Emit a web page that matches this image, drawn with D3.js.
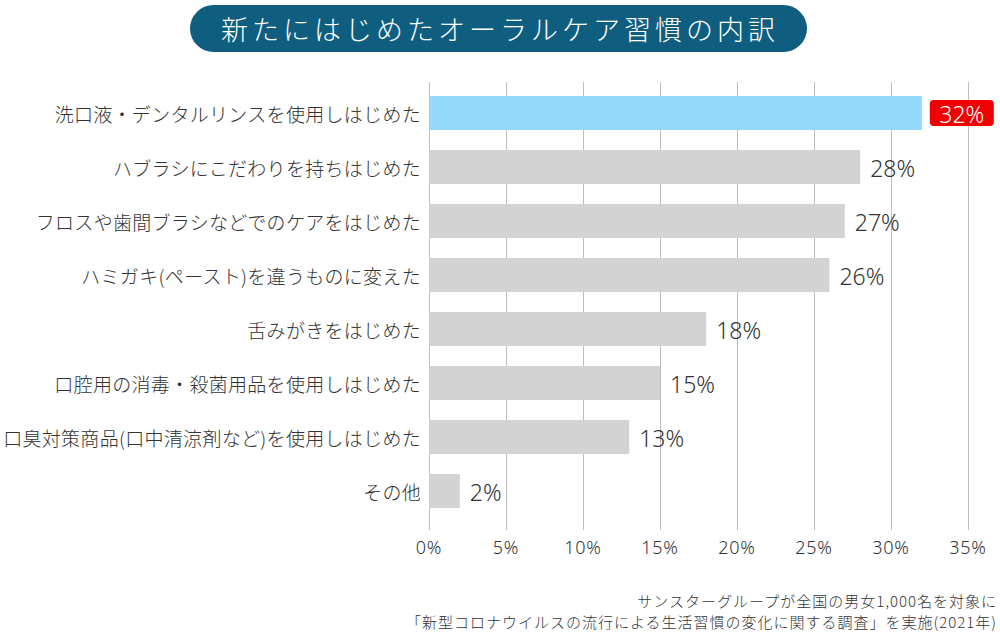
<!DOCTYPE html>
<html><head><meta charset="utf-8">
<script src="https://cdn.jsdelivr.net/npm/d3@7"></script>
<style>
body{margin:0;background:#fff;}
svg{display:block;font-family:"Noto Sans CJK JP","Noto Sans",sans-serif;}
</style></head>
<body>
<svg id="chart" width="1000" height="641"></svg>
<script>
const title = "新たにはじめたオーラルケア習慣の内訳";
const categories = [
  "洗口液・デンタルリンスを使用しはじめた",
  "ハブラシにこだわりを持ちはじめた",
  "フロスや歯間ブラシなどでのケアをはじめた",
  "ハミガキ(ペースト)を違うものに変えた",
  "舌みがきをはじめた",
  "口腔用の消毒・殺菌用品を使用しはじめた",
  "口臭対策商品(口中清涼剤など)を使用しはじめた",
  "その他"
];
const values = [32, 28, 27, 26, 18, 15, 13, 2];
const tickValues = [0, 5, 10, 15, 20, 25, 30, 35];
const notes = [
  "サンスターグループが全国の男女1,000名を対象に",
  "「新型コロナウイルスの流行による生活習慣の変化に関する調査」を実施(2021年)"
];

const svg = d3.select("#chart");
const x0 = 429, x1 = 968;
const x = d3.scaleLinear().domain([0, 35]).range([x0, x1]);
const y = d3.scaleBand().domain(categories).range([86, 518]).paddingInner(0.37).paddingOuter(0.185);
const numFont = "'Noto Sans','Noto Sans CJK JP',sans-serif";

// title pill
svg.append("rect").attr("x", 190).attr("y", 5).attr("width", 617).attr("height", 47)
  .attr("rx", 23.5).attr("fill", "#0f5e7f");
svg.append("text").attr("x", 500).attr("y", 28).attr("text-anchor", "middle")
  .attr("dominant-baseline", "central").attr("fill", "#fff").attr("font-size", 27)
  .attr("font-weight", 300).attr("letter-spacing", 4).text(title);

// grid
svg.append("g").selectAll("line").data(tickValues).join("line")
  .attr("x1", d => x(d) + 0.5).attr("x2", d => x(d) + 0.5)
  .attr("y1", 82).attr("y2", 530).attr("stroke", "#bdbdbd").attr("stroke-width", 1);

// axis labels
svg.append("g").selectAll("text").data(tickValues).join("text")
  .attr("x", d => x(d)).attr("y", 547).attr("text-anchor", "middle")
  .attr("dominant-baseline", "central").attr("font-size", 18).attr("font-weight", 300)
  .attr("letter-spacing", 0.8).attr("fill", "#333")
  .attr("font-family", numFont)
  .text(d => d + "%");

// bars
svg.append("g").selectAll("rect").data(values).join("rect")
  .attr("x", x(0)).attr("y", (d, i) => y(categories[i]))
  .attr("width", d => x(d) - x(0)).attr("height", y.bandwidth())
  .attr("fill", (d, i) => i === 0 ? "#92d9fb" : "#d3d3d3");

// category labels
svg.append("g").selectAll("text").data(categories).join("text")
  .attr("x", 421).attr("y", d => y(d) + y.bandwidth() / 2)
  .attr("text-anchor", "end").attr("dominant-baseline", "central")
  .attr("font-size", 19).attr("font-weight", 300).attr("letter-spacing", 0.3)
  .attr("fill", "#333").text(d => d);

// value labels
values.forEach((v, i) => {
  const cy = y(categories[i]) + y.bandwidth() / 2;
  if (i === 0) {
    svg.append("rect").attr("x", x(v) + 8).attr("y", cy - 13).attr("width", 64).attr("height", 26)
      .attr("rx", 4).attr("fill", "#f00000");
    svg.append("text").attr("x", x(v) + 40).attr("y", cy + 1).attr("text-anchor", "middle")
      .attr("dominant-baseline", "central").attr("font-size", 23).attr("font-weight", 300)
      .attr("fill", "#fff").attr("font-family", numFont).text(v + "%");
  } else {
    svg.append("text").attr("x", x(v) + 10).attr("y", cy + 1)
      .attr("dominant-baseline", "central").attr("font-size", 23).attr("font-weight", 300)
      .attr("fill", "#333").attr("font-family", numFont).text(v + "%");
  }
});

// notes
svg.append("g").selectAll("text").data(notes).join("text")
  .attr("x", 997).attr("y", (d, i) => 600 + i * 21).attr("text-anchor", "end")
  .attr("dominant-baseline", "central").attr("font-size", 15).attr("font-weight", 300)
  .attr("letter-spacing", 1).attr("fill", "#333").text(d => d);
</script>
</body></html>
